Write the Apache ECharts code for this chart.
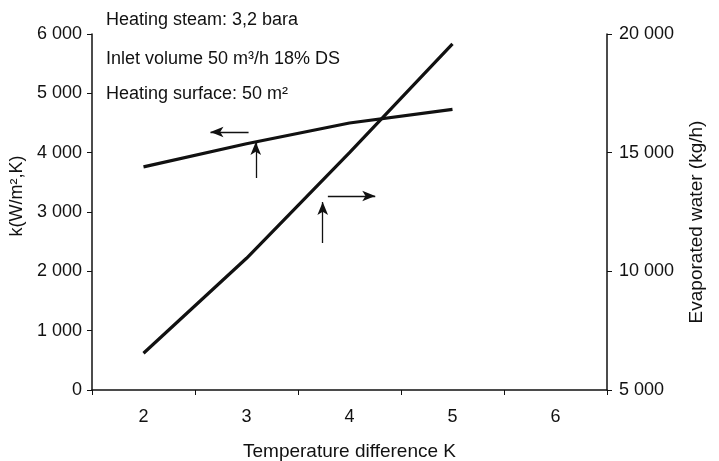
<!DOCTYPE html>
<html>
<head>
<meta charset="utf-8">
<script src="https://cdn.jsdelivr.net/npm/echarts@6/dist/echarts.min.js"></script>
<style>html,body{margin:0;padding:0;background:#fff}#c{width:719px;height:461px}</style>
</head>
<body>
<div id="c"></div>
<script>
// ---- data ----
const xCategories = ['2', '3', '4', '5', '6'];
const tempDiff = [2, 3, 4, 5];
const kValues = [3760, 4150, 4500, 4730];          // k (W/m²,K), left axis
const waterValues = [6550, 10550, 15000, 19580];   // evaporated water (kg/h), right axis
const notes = ['Heating steam: 3,2 bara', 'Inlet volume 50 m³/h 18% DS', 'Heating surface: 50 m²'];
// annotation arrows, in data coordinates [x, y]
const kArrowLeft = [[3.02, 4348], [2.65, 4348]];
const kArrowUp = [[3.09, 3573], [3.09, 4180]];
const wArrowRight = [[3.79, 13174], [4.25, 13174]];
const wArrowUp = [[3.74, 11194], [3.74, 12921]];

const FONT = '"Liberation Sans", Arial, sans-serif';
const fmt = v => v === 0 ? '0' : String(v).replace(/\B(?=(\d{3})+(?!\d))/g, ' ');
const pairs = (xs, ys) => xs.map((x, i) => [x, ys[i]]);
const arrow = a => [{ coord: a[0] }, { coord: a[1] }];

const chart = echarts.init(document.getElementById('c'));
chart.setOption({
  animation: false,
  backgroundColor: '#fff',
  textStyle: { fontFamily: FONT, color: '#111' },
  grid: { left: 92, right: 112, top: 34, bottom: 71, containLabel: false, outerBoundsMode: 'none' },
  graphic: notes.map((t, i) => ({
    type: 'text', left: 106, top: [11, 50, 85][i],
    style: { text: t, font: '18px ' + FONT, fill: '#111' }
  })),
  xAxis: [
    {
      type: 'category', data: xCategories, boundaryGap: true, position: 'bottom',
      name: 'Temperature difference K', nameLocation: 'middle', nameGap: 52,
      nameTextStyle: { fontSize: 19, color: '#111', fontFamily: FONT },
      axisLine: { lineStyle: { color: '#111', width: 1.5 } },
      axisTick: { show: true, length: 5, lineStyle: { color: '#111' } },
      axisLabel: { fontSize: 18, color: '#111', margin: 18, fontFamily: FONT },
      splitLine: { show: false }
    },
    { type: 'value', min: 1.5, max: 6.5, show: false }
  ],
  yAxis: [
    {
      type: 'value', min: 0, max: 6000, interval: 1000, position: 'left',
      name: 'k(W/m²,K)', nameLocation: 'middle', nameGap: 56, nameRotate: 90,
      nameTextStyle: { fontSize: 18, color: '#111', fontFamily: FONT, padding: [0, 0, 0, 32] },
      axisLine: { show: true, lineStyle: { color: '#111', width: 1.5 } },
      axisTick: { show: true, length: 5, lineStyle: { color: '#111' } },
      axisLabel: { fontSize: 18, color: '#111', margin: 10, formatter: fmt, fontFamily: FONT },
      splitLine: { show: false }
    },
    {
      type: 'value', min: 5000, max: 20000, interval: 5000, position: 'right',
      name: 'Evaporated water (kg/h)', nameLocation: 'middle', nameGap: 80, nameRotate: 90,
      nameTextStyle: { fontSize: 19, color: '#111', fontFamily: FONT, padding: [0, 20, 0, 0] },
      axisLine: { show: true, lineStyle: { color: '#111', width: 1.5 } },
      axisTick: { show: true, length: 5, lineStyle: { color: '#111' } },
      axisLabel: { fontSize: 18, color: '#111', margin: 12, formatter: fmt, fontFamily: FONT },
      splitLine: { show: false }
    }
  ],
  series: [
    {
      name: 'k', type: 'line', xAxisIndex: 1, yAxisIndex: 0,
      data: pairs(tempDiff, kValues), showSymbol: false,
      lineStyle: { color: '#111', width: 3.2 },
      markLine: {
        silent: true, symbol: ['none', 'arrow'], symbolSize: [8, 13],
        label: { show: false },
        lineStyle: { color: '#111', width: 1.3, type: 'solid' },
        data: [arrow(kArrowLeft), arrow(kArrowUp)]
      }
    },
    {
      name: 'water', type: 'line', xAxisIndex: 1, yAxisIndex: 1,
      data: pairs(tempDiff, waterValues), showSymbol: false,
      lineStyle: { color: '#111', width: 3.2 },
      markLine: {
        silent: true, symbol: ['none', 'arrow'], symbolSize: [8, 13],
        label: { show: false },
        lineStyle: { color: '#111', width: 1.3, type: 'solid' },
        data: [arrow(wArrowRight), arrow(wArrowUp)]
      }
    }
  ]
});
</script>
</body>
</html>
